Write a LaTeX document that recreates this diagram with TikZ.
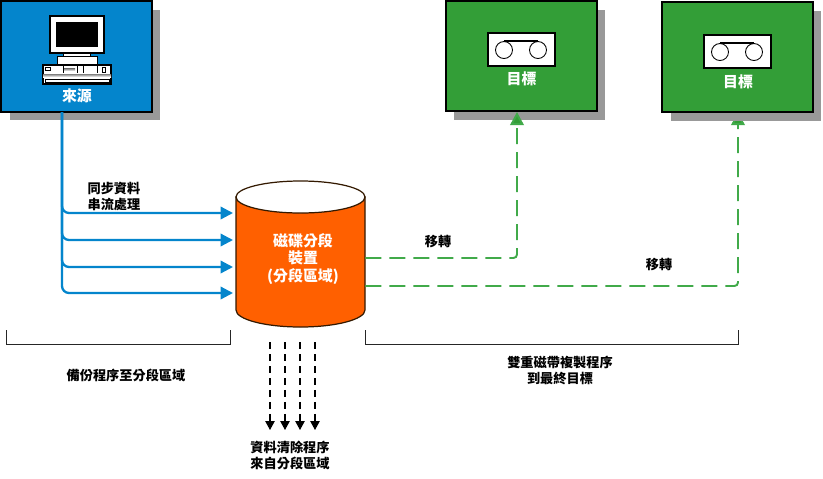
\documentclass[tikz,border=0pt]{standalone}
\usepackage{fontspec}
\setmainfont{Noto Sans CJK TC}
\usetikzlibrary{arrows.meta,positioning}

\tikzset{
  srcbox/.style={draw=black,fill=srcblue,line width=0.7pt,minimum width=3.02cm,minimum height=2.22cm,inner sep=0pt},
  tgtbox/.style={draw=black,fill=tgtgreen,line width=0.7pt,minimum width=3.02cm,minimum height=2.2cm,inner sep=0pt},
  shadebox/.style={fill=shade,minimum width=3.02cm,minimum height=2.2cm,inner sep=0pt},
  diskbox/.style={minimum width=2.58cm,minimum height=2.92cm,inner sep=0pt},
  lbl/.style={font=\fontsize{7.5}{9.6}\selectfont\bfseries,inner sep=0pt,align=center},
  whitelbl/.style={font=\fontsize{8.5}{10.2}\selectfont\bfseries,text=white,inner sep=0pt,align=center},
  feed/.style={draw=srcblue,line width=1.3pt,rounded corners=4pt,-{Triangle[length=0.25cm,width=0.25cm]}},
  move/.style={draw=dashgreen,line width=1.1pt,rounded corners=2pt,dash pattern=on 0.32cm off 0.16cm,
    -{Triangle[length=0.26cm,width=0.27cm,fill=tgtgreen]}},
  purge/.style={draw=black,line width=0.6pt,dash pattern=on 0.14cm off 0.1cm,-{Triangle[length=0.18cm,width=0.19cm]}},
  span/.style={draw=black!85,line width=0.6pt}
}

\begin{document}
\begin{tikzpicture}[x=0.02cm,y=-0.02cm]
% Define scheme colours
\definecolor{srcblue}{HTML}{0485CC}
\definecolor{tgtgreen}{HTML}{339E37}
\definecolor{dashgreen}{HTML}{41AA4A}
\definecolor{diskorange}{HTML}{FF6000}
\definecolor{shade}{HTML}{999999}
\useasboundingbox (0,0) rectangle (823,478);

% Source box with computer
\node[shadebox,minimum height=2.22cm] (srcshade) at (85,65) {};
\node[srcbox] (src) at (76.5,56.5) {};
\draw[fill=white,line width=0.6pt] (50,16) rectangle (104,53);
\fill[black] (56,22) rectangle (98,47);
\draw[fill=white,line width=0.5pt] (63,53) rectangle (90,56);
\draw[fill=white,line width=0.5pt] (57,56) rectangle (97,65);
\draw[fill=white,line width=0.6pt] (43,65) rectangle (111,84);
\foreach \xk in {63,77,83,97} \draw[line width=0.5pt] (\xk,65) -- (\xk,73);
\fill[shade] (64,68.5) rectangle (75,71);
\draw[line width=0.4pt] (102,67) rectangle (105.5,72);
\draw[line width=0.4pt] (45,67.5) rectangle (50,70.5);
\fill[shade] (43,74) rectangle (111,77);
\draw[line width=0.4pt,fill=white] (45,79) rectangle (109,82);
\node[whitelbl] (srclbl) at (77,96) {來源};

% Disk unit
\node[diskbox] (disk) at (300.5,254) {};
\draw[fill=diskorange,draw=black!80!orange,line width=0.7pt] (236,197) -- (236,310)
  arc[start angle=180,end angle=360,x radius=64.5,y radius=-17] -- (365,197) -- cycle;
\draw[fill=white,draw=black!80!orange,line width=0.7pt] (300.5,197) ellipse[x radius=64.5,y radius=16];
\node[whitelbl] (disklbl) at (303,259) {磁碟分段\\裝置\\(分段區域)};

% Branches from source into disk
\coordinate (trunk) at (62,112);
\foreach \yb/\nm in {213/a,240/b,267/c,293/d} {
  \coordinate (in\nm) at (233,\yb);
  \draw[feed] (trunk) |- (in\nm);
}
\node[lbl,align=left] (synclbl) at (114,196.5) {同步資料\\串流處理};

% Tape target one
\node[shadebox] (tgtashade) at (529.5,65) {};
\node[tgtbox] (tgta) at (521.5,56) {};
\coordinate (outa) at (disk.east |- 0,258);
\coordinate (ina) at (517,112);
\draw[move] (outa) -| (ina);

% Tape target two, arrow runs under its shadow
\coordinate (outb) at (disk.east |- 0,286);
\coordinate (inb) at (738,112);
\draw[move] (outb) -| (inb);
\node[shadebox] (tgtbshade) at (746,66) {};
\node[tgtbox] (tgtb) at (737.5,57) {};

% Tape icons
\foreach \xt/\yt in {488/33,704/35} {
  \draw[fill=white,line width=0.7pt] (\xt,\yt) rectangle ++(67,33);
  \draw[line width=0.5pt] (\xt+16,\yt+17) circle[radius=8.5];
  \draw[line width=0.5pt] (\xt+50,\yt+17) circle[radius=8.5];
  \draw[line width=0.6pt] (\xt+16,\yt+8) -- (\xt+50,\yt+8);
}
\node[whitelbl] (tgtalbl) at (521.5,79) {目標};
\node[whitelbl] (tgtblbl) at (738,82) {目標};
\node[lbl] (movea) at (438,242) {移轉};
\node[lbl] (moveb) at (659,265) {移轉};

% Purge arrows under disk
\foreach \xp/\nm in {270/a,285/b,300/c,315/d} {
  \coordinate (pf\nm) at (\xp,342);
  \coordinate (pt\nm) at (\xp,430);
  \draw[purge] (pf\nm) -- (pt\nm);
}
\node[lbl] (purgelbl) at (290,455.5) {資料清除程序\\來自分段區域};

% Spans
\coordinate (sa) at (6.5,330);
\coordinate (sb) at (230.5,330);
\coordinate (sc) at (365.5,330);
\coordinate (sd) at (738.5,330);
\draw[span] (sa) -- ++(0,14.5) -| (sb);
\draw[span] (sc) -- ++(0,14.5) -| (sd);
\node[lbl] (backuplbl) at (126,375) {備份程序至分段區域};
\node[lbl] (duallbl) at (560,370.5) {雙重磁帶複製程序\\到最終目標};
\end{tikzpicture}
\end{document}
